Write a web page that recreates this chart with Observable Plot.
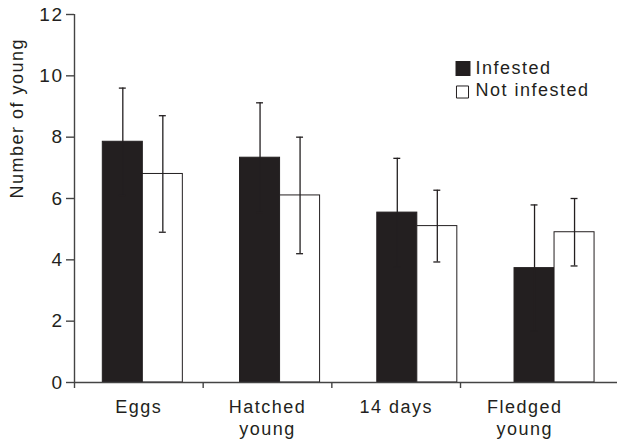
<!DOCTYPE html>
<html><head><meta charset="utf-8">
<script src="https://cdn.jsdelivr.net/npm/d3@7"></script>
<script src="https://cdn.jsdelivr.net/npm/@observablehq/plot@0.6"></script>
<style>
body{margin:0;background:#fff}
#chart{width:617px;height:444px}
#chart svg text{letter-spacing:1.5px}
</style>
</head><body><div id="chart"></div>
<script>
const categories = ["Eggs", "Hatched\nyoung", "14 days", "Fledged\nyoung"];
const series = ["Infested", "Not infested"];
const infestedMean = [7.85, 7.33, 5.54, 3.73];
const infestedSD = [1.75, 1.79, 1.77, 2.06];
const notInfestedMean = [6.8, 6.1, 5.1, 4.9];
const notInfestedSD = [1.9, 1.9, 1.17, 1.1];
const yTicks = [0, 2, 4, 6, 8, 10, 12];
const xTicks = [0, 1, 2, 3];

const ink = "#231f20";
// layout, in category units
const groupOffset = 0.22, groupStep = 1.0666, barWidth = 0.311, capHalf = 0.027;

const rows = [];
categories.forEach((c, i) => {
  [[infestedMean, infestedSD], [notInfestedMean, notInfestedSD]].forEach(([m, s], k) => {
    const x1 = groupOffset + i * groupStep + k * barWidth;
    rows.push({category: c, series: series[k], mean: m[i], sd: s[i], x1, x2: x1 + barWidth, xc: x1 + barWidth / 2, zero: 0});
  });
});

const chart = Plot.plot({
  width: 617,
  height: 444,
  marginLeft: 74,
  marginRight: 0,
  marginTop: 14,
  marginBottom: 62,
  style: {fontFamily: "'Liberation Sans', Arial, Helvetica, sans-serif", fontSize: "17px", color: ink, background: "#fff"},
  x: {domain: [0, 543 / 128.67], axis: null},
  y: {domain: [0, 12], axis: null},
  color: {domain: series, range: [ink, "#ffffff"]},
  marks: [
    Plot.rect(rows, {x1: "x1", x2: "x2", y1: "zero", y2: "mean", fill: "series", stroke: ink, strokeWidth: 1}),
    Plot.ruleX(rows, {x: "xc", y1: d => d.mean - d.sd, y2: d => d.mean + d.sd, stroke: ink, strokeWidth: 1.3}),
    Plot.ruleY(rows, {y: d => d.mean + d.sd, x1: d => d.xc - capHalf, x2: d => d.xc + capHalf, stroke: ink, strokeWidth: 1.3}),
    Plot.ruleY(rows, {y: d => d.mean - d.sd, x1: d => d.xc - capHalf, x2: d => d.xc + capHalf, stroke: ink, strokeWidth: 1.3}),
    // axes
    Plot.ruleX([0], {y1: 0, y2: 12, stroke: "#444", strokeWidth: 1.4}),
    Plot.ruleY([0], {stroke: "#444", strokeWidth: 1.4}),
    Plot.axisY({ticks: yTicks, tickSize: 8, tickFormat: () => "", label: null, stroke: "#444", strokeWidth: 1.4}),
    Plot.text(yTicks, {y: d => d, text: d => String(d), frameAnchor: "left", textAnchor: "end", dx: -11, fontSize: 19, fill: ink}),
    Plot.axisX({ticks: xTicks, tickSize: 6, tickFormat: () => "", label: null, stroke: "#444", strokeWidth: 1.4}),
    Plot.text(categories, {x: (d, i) => i + 0.5, text: d => d, frameAnchor: "bottom", lineAnchor: "top", dy: 16, fontSize: 18, lineHeight: 1.17, fill: ink}),
    Plot.text(["Number of young"], {frameAnchor: "left", rotate: -90, dx: -57, fontSize: 18, fill: ink}),
    // legend
    Plot.dot([series[0]], {frameAnchor: "top-left", dx: 388.5, dy: 54, symbol: "square", r: 7.6, fill: ink, stroke: ink}),
    Plot.dot([series[1]], {frameAnchor: "top-left", dx: 388, dy: 77.5, symbol: "square", r: 6.8, fill: "#fff", stroke: ink, strokeWidth: 1}),
    Plot.text([series[0]], {frameAnchor: "top-left", dx: 401, dy: 54, textAnchor: "start", lineAnchor: "middle", fontSize: 18, fill: ink}),
    Plot.text([series[1]], {frameAnchor: "top-left", dx: 401, dy: 75.5, textAnchor: "start", lineAnchor: "middle", fontSize: 18, fill: ink})
  ]
});
document.getElementById("chart").append(chart);
</script>
</body></html>
